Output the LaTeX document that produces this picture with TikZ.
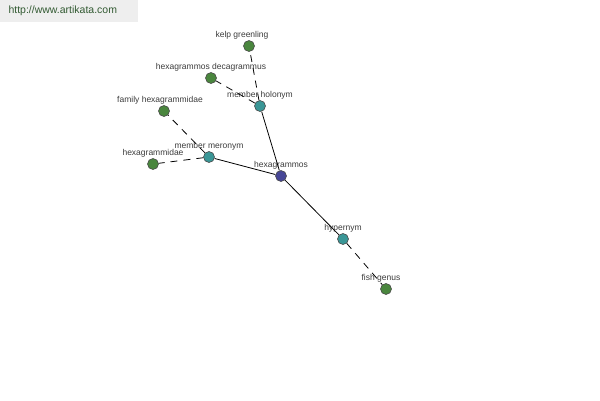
\documentclass[tikz,border=0pt]{standalone}
\usepackage{fontspec}
\setmainfont{Liberation Sans}
\definecolor{leafgreen}{RGB}{74,134,62}
\definecolor{relteal}{RGB}{58,150,150}
\definecolor{headblue}{RGB}{70,70,150}
\definecolor{markgray}{RGB}{238,238,238}
\definecolor{marktext}{RGB}{50,90,50}
\definecolor{lbltext}{RGB}{60,60,60}
\begin{document}
\begin{tikzpicture}[x=1pt,y=-1pt,
  word/.style={circle,draw=black!70,line width=0.6pt,minimum size=11pt,inner sep=0pt},
  leaf/.style={word,fill=leafgreen},
  rel/.style={word,fill=relteal},
  head/.style={word,fill=headblue},
  lbl/.style={font=\fontsize{8.5}{9}\selectfont,text=lbltext,inner sep=1pt},
  link/.style={black,line width=0.8pt},
  weak/.style={link,dash pattern=on 7pt off 6pt}]
\useasboundingbox[fill=white] (0,0) rectangle (600,400);
\fill[markgray] (0,0) rectangle (138,22);
\node[font=\fontsize{10.5}{11}\selectfont,text=marktext,anchor=west] (site) at (5,11) {http://www.artikata.com};
\node[head,label={[lbl]above:hexagrammos}] (hx) at (281,176) {};
\node[rel,label={[lbl]above:member holonym}] (hol) at (260,106) {};
\node[rel,label={[lbl]above:member meronym}] (mer) at (209,157) {};
\node[rel,label={[lbl]above:hypernym}] (hyp) at (343,239) {};
\node[leaf,label={[lbl,xshift=-7pt]above:kelp greenling}] (kelp) at (249,46) {};
\node[leaf,label={[lbl]above:hexagrammos decagrammus}] (deca) at (211,78) {};
\node[leaf,label={[lbl,xshift=-4pt]above:family hexagrammidae}] (fam) at (164,111) {};
\node[leaf,label={[lbl]above:hexagrammidae}] (hxd) at (153,164) {};
\node[leaf,label={[lbl,xshift=-5pt]above:fish genus}] (fish) at (386,289) {};
\draw[link] (hx) -- (hol);
\draw[link] (hx) -- (mer);
\draw[link] (hx) -- (hyp);
\draw[weak] (hol) -- (kelp);
\draw[weak] (hol) -- (deca);
\draw[weak] (mer) -- (fam);
\draw[weak] (mer) -- (hxd);
\draw[weak] (hyp) -- (fish);
\end{tikzpicture}
\end{document}
